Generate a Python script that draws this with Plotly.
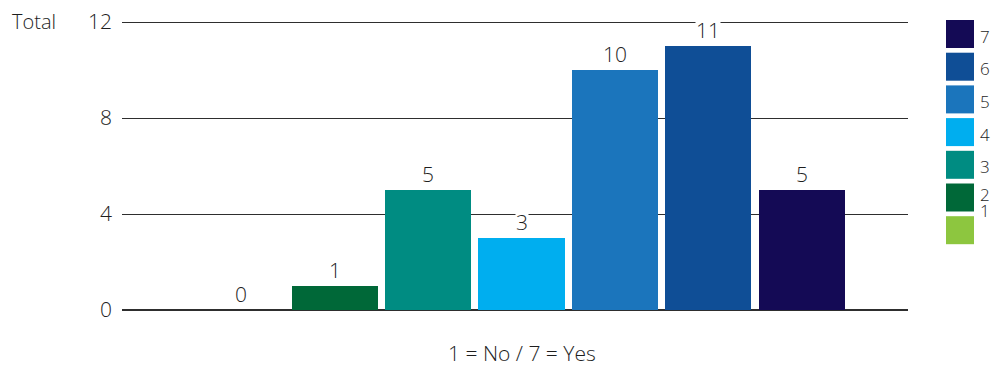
import plotly.graph_objects as go

# Ratings 1..7 and the number of responses for each
categories = [1, 2, 3, 4, 5, 6, 7]
totals = [0, 1, 5, 3, 10, 11, 5]
colors = ["#8dc63f", "#006838", "#008c82", "#00aeef", "#1b75bc", "#0f4e96", "#140a55"]
y_ticks = [0, 4, 8, 12]
axis_title = "1 = No / 7 = Yes"
y_label = "Total"

FONT = "Open Sans"
TEXT = "#1e1e1e"

W, H = 992, 369
ML, MR, MT, MB = 122, 84, 19, 59
PW, PH = W - ML - MR, H - MT - MB
Y_MAX = 12.125  # small headroom so the top gridline is drawn


def px_x(x):
    return (x - ML) / PW


def px_y(y):
    return 1 - (y - MT) / PH


fig = go.Figure()
fig.add_trace(go.Bar(
    x=categories, y=totals, marker=dict(color=colors, line=dict(width=0)),
    width=0.92, showlegend=False, hoverinfo="x+y",
))

annotations = []
# value labels above each bar
for c, v in zip(categories, totals):
    annotations.append(dict(
        x=c, y=v, xref="x", yref="y", text=str(v), showarrow=False,
        yanchor="bottom", yshift=1, bgcolor="white", borderpad=0,
        font=dict(family=FONT, size=21, color=TEXT, weight=300),
    ))

annotations.append(dict(
    x=px_x(10), y=px_y(22), xref="paper", yref="paper", text=y_label,
    showarrow=False, xanchor="left", yanchor="middle",
    font=dict(family=FONT, size=20, color=TEXT, weight=300),
))

annotations.append(dict(
    x=px_x(522), y=px_y(368), xref="paper", yref="paper", text=axis_title,
    showarrow=False, xanchor="center", yanchor="bottom", borderpad=0,
    font=dict(family=FONT, size=21, color=TEXT, weight=300),
))

# legend, highest rating on top
shapes = []
legend_top = 20
pitch = 32.7
label_centres = {2: 194, 1: 210}
for i, (c, col) in enumerate(zip(categories[::-1], colors[::-1])):
    y0 = legend_top + i * pitch
    shapes.append(dict(
        type="rect", xref="paper", yref="paper",
        x0=px_x(946), x1=px_x(974), y0=px_y(y0), y1=px_y(y0 + 28),
        fillcolor=col, line=dict(width=0), layer="above",
    ))
    ly = label_centres.get(c, y0 + 16)
    annotations.append(dict(
        x=px_x(979), y=px_y(ly), xref="paper", yref="paper", text=str(c),
        showarrow=False, xanchor="left", yanchor="middle", borderpad=0,
        font=dict(family=FONT, size=17, color=TEXT, weight=300),
    ))

fig.update_layout(
    width=W, height=H,
    margin=dict(l=ML, r=MR, t=MT, b=MB, pad=0, autoexpand=False),
    paper_bgcolor="white", plot_bgcolor="white",
    font=dict(family=FONT, color=TEXT),
    bargap=0,
    xaxis=dict(
        range=[-0.273, 8.134], showticklabels=False, showgrid=False,
        zeroline=False, showline=False, ticks="", automargin=False,
    ),
    yaxis=dict(
        range=[0, Y_MAX], tickvals=y_ticks, showgrid=True, gridcolor="#2e2e2e",
        gridwidth=1, zeroline=True, zerolinecolor="#2e2e2e", zerolinewidth=1.5,
        showline=False, ticks="", ticklabelstandoff=9, automargin=False,
        tickfont=dict(family=FONT, size=21, color=TEXT, weight=300),
    ),
    shapes=shapes,
    annotations=annotations,
)

fig.write_html("out.html")
